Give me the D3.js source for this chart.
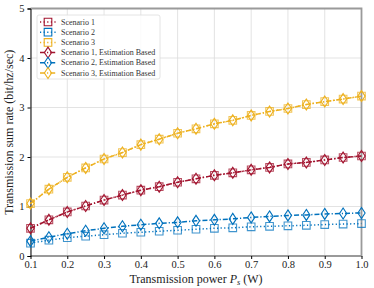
<!DOCTYPE html>
<html>
<head>
<meta charset="utf-8">
<script src="https://cdn.jsdelivr.net/npm/d3@7"></script>
<style>
  body { margin: 0; background: #fff; }
  text { font-family: "Liberation Serif", "DejaVu Serif", serif; }
</style>
</head>
<body>
<div id="chart"></div>
<script>
// 데이터
const power = [0.1, 0.15, 0.2, 0.25, 0.3, 0.35, 0.4, 0.45, 0.5, 0.55, 0.6, 0.65, 0.7, 0.75, 0.8, 0.85, 0.9, 0.95, 1.0];
const scenario1 = [0.56, 0.73, 0.89, 1.01, 1.13, 1.23, 1.33, 1.40, 1.49, 1.56, 1.63, 1.68, 1.74, 1.79, 1.86, 1.89, 1.94, 1.99, 2.02];
const scenario2 = [0.26, 0.32, 0.37, 0.40, 0.43, 0.46, 0.48, 0.50, 0.52, 0.54, 0.56, 0.57, 0.59, 0.60, 0.61, 0.62, 0.635, 0.645, 0.655];
const scenario3 = [1.06, 1.35, 1.59, 1.78, 1.96, 2.09, 2.25, 2.36, 2.48, 2.57, 2.67, 2.74, 2.84, 2.92, 2.98, 3.06, 3.12, 3.17, 3.23];
const est1 = [0.56, 0.73, 0.89, 1.01, 1.13, 1.23, 1.33, 1.40, 1.49, 1.56, 1.63, 1.68, 1.74, 1.79, 1.86, 1.89, 1.94, 1.99, 2.02];
const est2 = [0.30, 0.38, 0.45, 0.51, 0.56, 0.60, 0.63, 0.66, 0.68, 0.71, 0.73, 0.75, 0.78, 0.80, 0.82, 0.83, 0.85, 0.86, 0.87];
const est3 = [1.06, 1.35, 1.59, 1.78, 1.96, 2.09, 2.25, 2.36, 2.48, 2.57, 2.67, 2.74, 2.84, 2.92, 2.98, 3.06, 3.12, 3.17, 3.23];
const xTicks = [0.1, 0.2, 0.3, 0.4, 0.5, 0.6, 0.7, 0.8, 0.9, 1.0];
const yTicks = [0, 1, 2, 3, 4, 5];

const RED = "#A2142F", BLUE = "#0072BD", YEL = "#EDB120";

const series = [
  { name: "Scenario 1", values: scenario1, color: RED, marker: "square", dash: "1.2,2.4" },
  { name: "Scenario 2", values: scenario2, color: BLUE, marker: "square", dash: "1.2,2.4" },
  { name: "Scenario 3", values: scenario3, color: YEL, marker: "square", dash: "1.2,2.4" },
  { name: "Scenario 1, Estimation Based", values: est1, color: RED, marker: "diamond", dash: "5,2,1.2,2" },
  { name: "Scenario 2, Estimation Based", values: est2, color: BLUE, marker: "diamond", dash: "5,2,1.2,2" },
  { name: "Scenario 3, Estimation Based", values: est3, color: YEL, marker: "diamond", dash: "5,2,1.2,2" },
];

const W = 374, H = 288;
const m = { left: 30.5, right: 12.5, top: 8.5, bottom: 32 };

const svg = d3.select("#chart").append("svg").attr("width", W).attr("height", H);

const x = d3.scaleLinear().domain([0.1, 1.0]).range([m.left, W - m.right]);
const y = d3.scaleLinear().domain([0, 5]).range([H - m.bottom, m.top]);

// 그리드
svg.append("g").selectAll("line").data(xTicks).join("line")
  .attr("x1", d => x(d)).attr("x2", d => x(d))
  .attr("y1", y(0)).attr("y2", y(5))
  .attr("stroke", "#dcdcdc").attr("stroke-width", 0.8);
svg.append("g").selectAll("line").data(yTicks).join("line")
  .attr("x1", x(0.1)).attr("x2", x(1.0))
  .attr("y1", d => y(d)).attr("y2", d => y(d))
  .attr("stroke", "#dcdcdc").attr("stroke-width", 0.8);

// 테두리 (위/오른쪽/아래 회색)
svg.append("path")
  .attr("d", `M${x(0.1)},${y(5)}H${x(1.0)}V${y(0)}H${x(0.1)}`)
  .attr("fill", "none").attr("stroke", "#9a9a9a").attr("stroke-width", 1.8);

// 축
const xAxis = svg.append("g")
  .attr("transform", `translate(0,${y(0)})`)
  .call(d3.axisBottom(x).tickValues(xTicks).tickFormat(d3.format(".1f")).tickSize(3).tickPadding(2));
xAxis.select(".domain").remove();
xAxis.selectAll("text").attr("font-size", 10.5).attr("fill", "#222");

const yAxis = svg.append("g")
  .attr("transform", `translate(${x(0.1)},0)`)
  .call(d3.axisLeft(y).tickValues(yTicks).tickFormat(d3.format("d")).tickSize(3).tickPadding(3));
yAxis.select(".domain").attr("stroke", "#000");
yAxis.selectAll("text").attr("font-size", 10.5).attr("fill", "#222");

// 축 제목
const xl = svg.append("text")
  .attr("x", (x(0.1) + x(1.0)) / 2).attr("y", 283)
  .attr("text-anchor", "middle").attr("font-size", 12).attr("fill", "#222");
xl.append("tspan").text("Transmission power ");
xl.append("tspan").attr("font-style", "italic").text("P");
xl.append("tspan").attr("font-style", "italic").attr("font-size", 8.5).attr("dy", 2).text("s");
xl.append("tspan").attr("dy", -2).text(" (W)");

svg.append("text")
  .attr("transform", `translate(13,${(y(0) + y(5)) / 2}) rotate(-90)`)
  .attr("text-anchor", "middle").attr("font-size", 12).attr("fill", "#222")
  .text("Transmission sum rate (bit/hz/sec)");

// 마커 모양
function markerPath(type) {
  if (type === "square") return "M-3.8,-3.8H3.8V3.8H-3.8Z";
  return "M0,-5.5L3.6,0L0,5.5L-3.6,0Z";
}

const line = d3.line().x((d, i) => x(power[i])).y(d => y(d));

// 시리즈
for (const s of series) {
  const g = svg.append("g");
  g.append("path")
    .attr("d", line(s.values))
    .attr("fill", "none").attr("stroke", s.color)
    .attr("stroke-width", 1.5).attr("stroke-dasharray", s.dash);
  g.selectAll("path.mk").data(s.values).join("path")
    .attr("class", "mk")
    .attr("transform", (d, i) => `translate(${x(power[i])},${y(d)})`)
    .attr("d", markerPath(s.marker))
    .attr("fill", "none").attr("stroke", s.color)
    .attr("stroke-width", 1.1)
    .attr("stroke-opacity", s.marker === "square" ? 0.75 : 1);
}

// 범례
const lg = svg.append("g").attr("transform", "translate(37,15)");
lg.append("rect").attr("width", 123).attr("height", 64).attr("rx", 2)
  .attr("fill", "#fff").attr("fill-opacity", 0.85).attr("stroke", "#ddd").attr("stroke-width", 0.8);
series.forEach((s, i) => {
  const yy = 7 + i * 10.2;
  lg.append("line").attr("x1", 3).attr("x2", 19).attr("y1", yy).attr("y2", yy)
    .attr("stroke", s.color).attr("stroke-width", 1.5).attr("stroke-dasharray", s.dash);
  lg.append("path").attr("transform", `translate(11,${yy})`).attr("d", markerPath(s.marker))
    .attr("fill", "none").attr("stroke", s.color).attr("stroke-width", 1.1);
  lg.append("text").attr("x", 24).attr("y", yy + 2.5)
    .attr("font-size", 8).attr("fill", "#333").text(s.name);
});
</script>
</body>
</html>
